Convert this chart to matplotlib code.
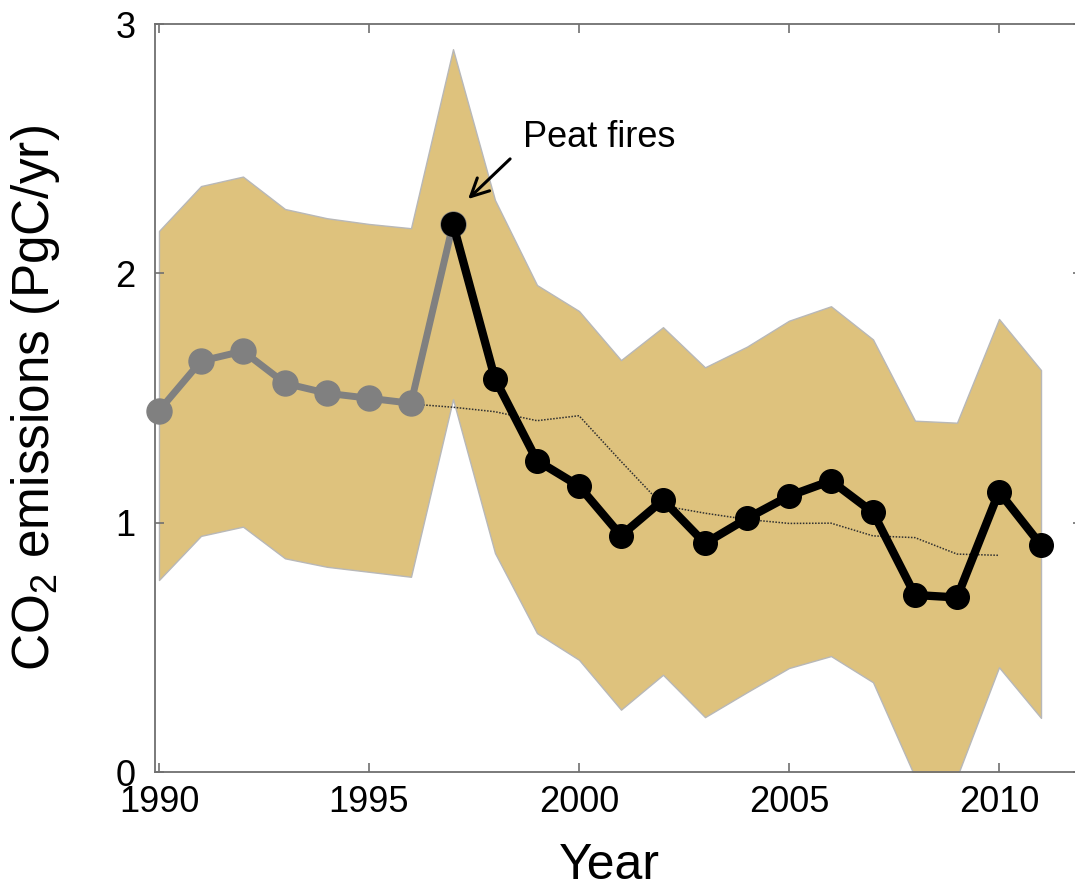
import matplotlib
matplotlib.use("Agg")
import matplotlib.pyplot as plt

plt.rcParams['font.family'] = ['Liberation Sans', 'DejaVu Sans']
plt.rcParams['mathtext.fontset'] = 'custom'
plt.rcParams['mathtext.rm'] = 'Liberation Sans'
plt.rcParams['mathtext.it'] = 'Liberation Sans:italic'

# ---- data ----
years_gray = [1990, 1991, 1992, 1993, 1994, 1995, 1996, 1997]
emis_gray = [1.449, 1.648, 1.688, 1.559, 1.519, 1.499, 1.479, 2.198]

years_black = [1997, 1998, 1999, 2000, 2001, 2002, 2003, 2004, 2005, 2006,
               2007, 2008, 2009, 2010, 2011]
emis_black = [2.198, 1.577, 1.249, 1.147, 0.948, 1.091, 0.917, 1.017, 1.107,
              1.168, 1.041, 0.710, 0.700, 1.124, 0.910]

years_band = [1990, 1991, 1992, 1993, 1994, 1995, 1996, 1997, 1998, 1999,
              2000, 2001, 2002, 2003, 2004, 2005, 2006, 2007, 2008, 2009,
              2010, 2011]
band_upper = [2.17, 2.35, 2.388, 2.258, 2.221, 2.198, 2.181, 2.899, 2.294,
              1.953, 1.849, 1.652, 1.784, 1.623, 1.706, 1.810, 1.868, 1.735,
              1.409, 1.401, 1.817, 1.612]
band_lower = [0.77, 0.947, 0.984, 0.857, 0.823, 0.803, 0.783, 1.495, 0.878,
              0.557, 0.45, 0.25, 0.39, 0.22, 0.32, 0.417, 0.465, 0.36,
              -0.02, -0.02, 0.42, 0.217]

years_dot = [1996, 1997, 1998, 1999, 2000, 2001, 2002, 2003, 2004, 2005,
             2006, 2007, 2008, 2009, 2010]
emis_dot = [1.476, 1.463, 1.445, 1.409, 1.429, 1.246, 1.068, 1.038, 1.013,
            0.997, 0.998, 0.947, 0.940, 0.874, 0.869]

xticks = [1990, 1995, 2000, 2005, 2010]
yticks = [0, 1, 2, 3]

# ---- figure ----
W, H = 1075, 893
fig = plt.figure(figsize=(W / 100, H / 100), dpi=100)
ax = fig.add_axes([155 / W, (H - 772) / H, (1082 - 155) / W, (772 - 24) / H])

ax.fill_between(years_band, band_lower, band_upper, facecolor='#DEC27D',
                edgecolor='#b8b8b8', linewidth=1.0, zorder=1)
ax.plot(years_dot, emis_dot, linestyle=(0, (1, 1)), color='#303030',
        linewidth=1.1, zorder=2)
ax.plot(years_gray, emis_gray, color='#808080', linewidth=5, marker='o',
        markersize=18, zorder=3, clip_on=False)
ax.plot(years_black, emis_black, color='black', linewidth=6, marker='o',
        markersize=17, zorder=4, clip_on=False)

ax.annotate('', xy=(1997.36, 2.298), xytext=(1998.36, 2.459),
            arrowprops=dict(arrowstyle='->', lw=2.2, color='black',
                            mutation_scale=32, shrinkA=0, shrinkB=0),
            zorder=5)
ax.text(1998.67, 2.543, 'Peat fires', fontsize=26, ha='left', va='center',
        color='black')

ax.set_xlim(1989.905, 2011.976)
ax.set_ylim(0, 3)
ax.set_xticks(xticks)
ax.set_yticks(yticks)
ax.set_xticklabels([str(t) for t in xticks])
ax.set_yticklabels([str(t) for t in yticks])

for s in ax.spines.values():
    s.set_color('#707070')
    s.set_linewidth(1.3)

ax.tick_params(axis='both', which='major', direction='in', length=6.5,
               width=1.2, color='#707070', labelsize=26, labelcolor='black',
               top=True, right=True)
ax.tick_params(axis='x', pad=9)
ax.tick_params(axis='y', pad=14)

ax.set_xlabel('Year', fontsize=36)
ax.set_ylabel('CO$_2$ emissions (PgC/yr)', fontsize=37)
ax.xaxis.set_label_coords(0.49, -0.095)
ax.yaxis.set_label_coords(-0.100, 0.5)

fig.savefig('out.png', dpi=100)
